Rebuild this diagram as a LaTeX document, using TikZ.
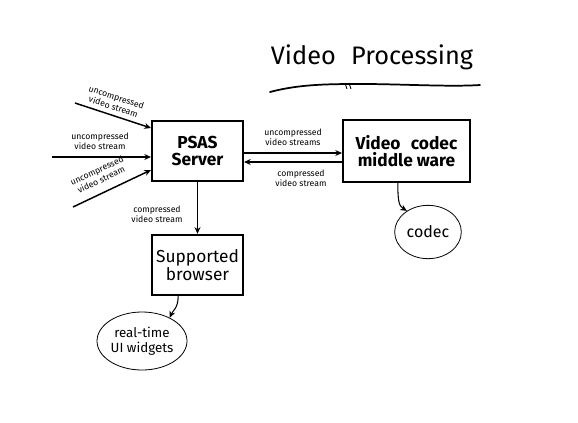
\documentclass[tikz,border=0pt]{standalone}
\usepackage{fontspec}
\setmainfont{Fira Sans}
\usetikzlibrary{arrows.meta,calc,shapes.geometric}

\begin{document}
\begin{tikzpicture}[x=0.75pt,y=-0.75pt,
		box/.style={draw,line width=1.8pt,inner sep=0pt,align=center,font=\fontsize{13}{12.5}\selectfont\bfseries},
		blob/.style={draw,ellipse,line width=0.6pt,inner sep=0pt,align=center},
		lbl/.style={inner sep=0pt,align=center,font=\fontsize{6.5}{7.5}\selectfont},
		arr/.style={line width=1.1pt,-{Stealth[length=5pt,width=4.5pt]}}]
			\useasboundingbox (0,0) rectangle (578,422);
			% title
			\node (title) at (372,57) {\fontsize{19}{19}\selectfont Video\hspace{0.6em}Processing};
			\draw[line width=1.3pt,line cap=round] (270,92) .. controls (300,84) and (330,84) .. (363,84)
				.. controls (400,84) and (450,87) .. (480,85);
			\draw[line width=0.6pt] (345,83) -- (347,89) (349,83) -- (351,89);
			% boxes
			\node[box,minimum width=68pt,minimum height=45pt] (psas) at (197.5,151) {PSAS\\Server};
			\node[box,minimum width=95pt,minimum height=46.5pt] (mw) at (406.5,151) {Video\hspace{0.6em}codec\\middle ware};
			\node[box,minimum width=68pt,minimum height=45pt,font=\fontsize{13}{12.5}\selectfont] (browser) at (197.5,265) {Supported\\browser};
			% ellipses
			\node[blob,minimum width=67.5pt,minimum height=43.5pt,font=\fontsize{10}{11}\selectfont] (widgets) at (142,341) {real-time\\UI widgets};
			\node[blob,minimum width=50pt,minimum height=40pt,font=\fontsize{12}{12}\selectfont] (codec) at (428,232) {codec};
			% incoming streams
			\coordinate (in1) at (75,103);
			\coordinate (in2) at (52,157);
			\coordinate (in3) at (73,207);
			\draw[arr] (in1) -- (psas.west |- 0,128);
			\draw[arr] (in2) -- (psas.west |- 0,157);
			\draw[arr] (in3) -- (psas.west |- 0,170);
			\node[lbl,rotate=-18] (l1) at (115,102) {uncompressed\\video stream};
			\node[lbl] (l2) at (100,141) {uncompressed\\video stream};
			\node[lbl,rotate=25] (l3) at (99,175) {uncompressed\\video stream};
			% server <-> middleware
			\draw[arr] (psas.east |- 0,153) -- (mw.west |- 0,153);
			\draw[arr] (mw.west |- 0,162) -- (psas.east |- 0,162);
			\node[lbl] (l4) at (293,137) {uncompressed\\video streams};
			\node[lbl] (l5) at (301,178) {compressed\\video stream};
			% server -> browser
			\draw[arr] (psas.south) -- (browser.north);
			\node[lbl] (l6) at (157,214) {compressed\\video stream};
			% to the ellipses
			\draw[arr,line width=0.8pt] ([xshift=-14.5pt]browser.south) .. controls +(0,12) and +(3,-7) .. (widgets.40);
			\draw[arr,line width=0.8pt] ([xshift=-6.5pt]mw.south) .. controls +(0,18) and +(-8,-5) .. (codec.135);
		\end{tikzpicture}
\end{document}
